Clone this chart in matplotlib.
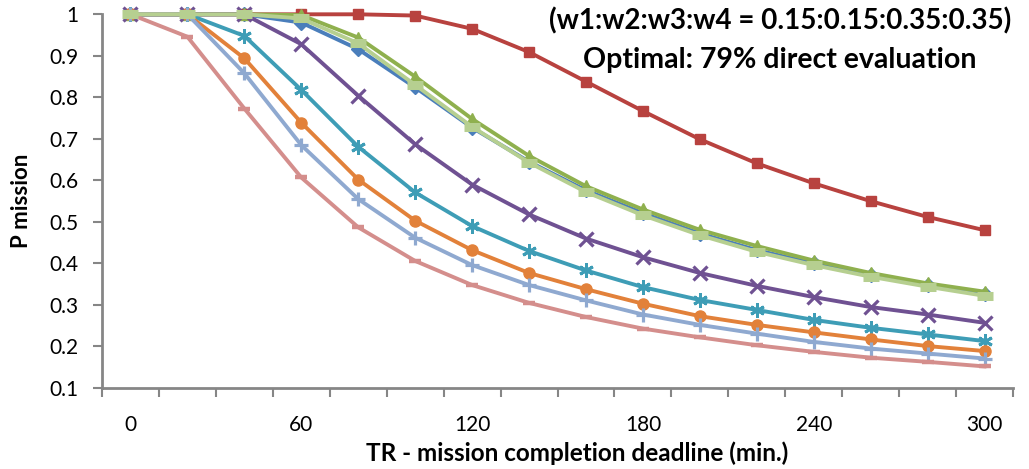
import matplotlib
matplotlib.use("Agg")
import matplotlib.pyplot as plt

# Deadline categories (minutes)
deadlines = [0, 20, 40, 60, 80, 100, 120, 140, 160, 180, 200, 220, 240, 260, 280, 300]
tick_labels = ["0", "60", "120", "180", "240", "300"]

# Mission success probability per strategy
s1_blue = [1, 1, 1, 0.980, 0.916, 0.824, 0.727, 0.645, 0.576, 0.521, 0.472, 0.432, 0.400, 0.372, 0.348, 0.326]
s2_red = [1, 1, 1, 1, 1, 0.997, 0.965, 0.909, 0.838, 0.767, 0.699, 0.641, 0.593, 0.550, 0.512, 0.480]
s3_green = [1, 1, 1, 0.998, 0.944, 0.850, 0.748, 0.659, 0.586, 0.530, 0.481, 0.442, 0.407, 0.377, 0.352, 0.332]
s4_purple = [1, 1, 1, 0.928, 0.804, 0.687, 0.590, 0.518, 0.460, 0.415, 0.377, 0.346, 0.319, 0.295, 0.277, 0.257]
s5_teal = [1, 1, 0.948, 0.818, 0.681, 0.571, 0.490, 0.430, 0.383, 0.343, 0.312, 0.288, 0.264, 0.245, 0.229, 0.213]
s6_orange = [1, 1, 0.894, 0.739, 0.602, 0.503, 0.432, 0.377, 0.338, 0.303, 0.273, 0.252, 0.234, 0.217, 0.201, 0.189]
s7_lightblue = [1, 1, 0.858, 0.685, 0.555, 0.462, 0.396, 0.348, 0.311, 0.277, 0.252, 0.231, 0.211, 0.195, 0.183, 0.171]
s8_pink = [1, 0.946, 0.773, 0.607, 0.487, 0.406, 0.348, 0.305, 0.271, 0.243, 0.222, 0.203, 0.187, 0.173, 0.163, 0.152]
s9_lightgreen = [1, 1, 1, 0.990, 0.930, 0.830, 0.729, 0.643, 0.572, 0.516, 0.468, 0.428, 0.396, 0.368, 0.344, 0.322]

series = [
    (s1_blue, "#4A7EBB", "D", 7.0, 1.0),
    (s2_red, "#B8423F", "s", 7.5, 1.0),
    (s3_green, "#8FB04E", "^", 8.0, 1.0),
    (s4_purple, "#6F5192", "x", 9.5, 2.3),
    (s5_teal, "#3E9DB6", (6, 2, 0), 10.5, 2.1),
    (s6_orange, "#E2813A", "o", 8.0, 1.0),
    (s7_lightblue, "#8FA9D0", "+", 10.5, 2.3),
    (s8_pink, "#D48E8C", "_", 8.0, 3.2),
    (s9_lightgreen, "#B6CF90", "_", 11.0, 6.5),
]

plt.rcParams["font.family"] = ["Lato", "DejaVu Sans"]

fig = plt.figure(figsize=(10.29, 4.69), dpi=100)
ax = fig.add_axes([102 / 1029, 1 - 388 / 469, (1013 - 102) / 1029, (388 - 14.3) / 469])

pos = list(range(len(deadlines)))
for vals, col, mk, ms, mew in series:
    ax.plot(pos, vals, color=col, lw=2.8, marker=mk, markersize=ms,
            markeredgewidth=mew, markeredgecolor=col, markerfacecolor=col,
            clip_on=False, solid_joinstyle="round")

ax.set_xlim(-0.5, len(deadlines) - 0.5)
ax.set_ylim(0.1, 1.0)

# Tick marks between categories, labels every third category
ax.set_xticks([i - 0.5 for i in range(len(deadlines) + 1)])
ax.set_xticklabels([])
label_pos = [i for i, d in enumerate(deadlines) if d % 60 == 0]
ax.set_xticks(label_pos, minor=True)
ax.set_xticklabels(tick_labels, minor=True)
ax.tick_params(axis="x", which="minor", length=0, pad=19.5, labelsize=15)
ax.tick_params(axis="x", which="major", length=6.5, width=1.5, color="#868686", direction="out")

yt = [round(0.1 * k, 1) for k in range(1, 11)]
ax.set_yticks(yt)
ax.set_yticklabels(["1" if v == 1.0 else f"{v:.1f}" for v in yt])
ax.tick_params(axis="y", length=6.2, width=1.5, color="#868686", direction="out", labelsize=15, pad=11)

for side in ("top", "right"):
    ax.spines[side].set_visible(False)
for side in ("left", "bottom"):
    ax.spines[side].set_color("#868686")
    ax.spines[side].set_linewidth(2)

ax.set_ylabel("P mission", fontsize=16, fontweight="bold", labelpad=12)
fig.text(577 / 1029, 1 - 453 / 469, "TR - mission completion deadline (min.)",
         ha="center", va="center", fontsize=17.5, fontweight="bold")

fig.text(780 / 1029, 1 - 21 / 469, "(w1:w2:w3:w4 = 0.15:0.15:0.35:0.35)",
         ha="center", va="center", fontsize=20, fontweight="bold")
fig.text(780 / 1029, 1 - 60 / 469, "Optimal: 79% direct evaluation",
         ha="center", va="center", fontsize=20.5, fontweight="bold")

fig.savefig("out.png", dpi=100)
